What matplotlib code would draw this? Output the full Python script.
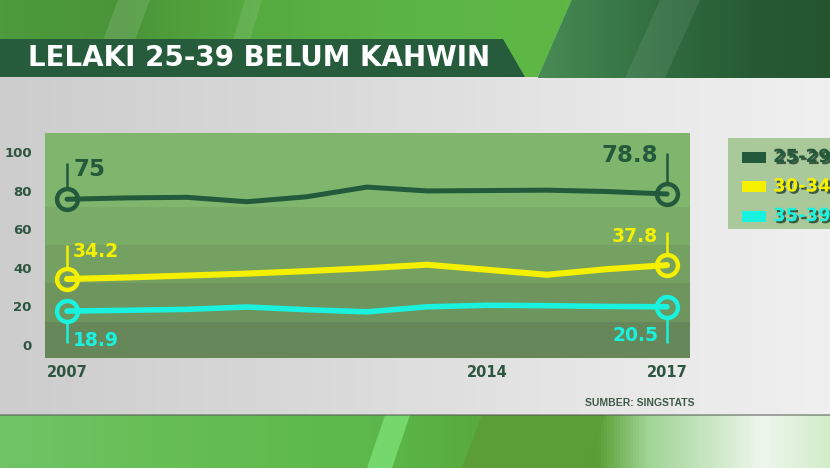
import numpy as np
import matplotlib
matplotlib.use('Agg')
import matplotlib.pyplot as plt
from matplotlib.colors import LinearSegmentedColormap
from matplotlib.patches import Polygon, Rectangle
import matplotlib.patheffects as pe

# data
years = [2007, 2008, 2009, 2010, 2011, 2012, 2013, 2014, 2015, 2016, 2017]
age_25_29 = [75.5, 76.2, 76.5, 74.2, 76.8, 81.8, 79.8, 80.0, 80.2, 79.5, 78.2]
age_30_34 = [34.2, 35.0, 36.0, 37.0, 38.3, 39.8, 41.6, 39.0, 36.4, 39.3, 41.4]
age_35_39 = [17.6, 18.0, 18.5, 19.7, 18.3, 17.2, 19.8, 20.6, 20.4, 20.0, 19.8]
series_names = ['25-29', '30-34', '35-39']
start_labels = ['75', '34.2', '18.9']
end_labels = ['78.8', '37.8', '20.5']
yticks = [0, 20, 40, 60, 80, 100]
xticks = [2007, 2014, 2017]
title = 'LELAKI 25-39 BELUM KAHWIN'
source = 'SUMBER: SINGSTATS'

colors = ['#245a3c', '#f4f000', '#1af2e0']
W, H = 830, 468
fig = plt.figure(figsize=(W / 100, H / 100), dpi=100)

# ---------------- background (pixel coords) ----------------
bg = fig.add_axes([0, 0, 1, 1], zorder=-5)
bg.set_xlim(0, W)
bg.set_ylim(H, 0)
bg.axis('off')

def hgrad(ax, x0, x1, y0, y1, stops, z=0):
    cmap = LinearSegmentedColormap.from_list('g', stops)
    g = np.linspace(0, 1, 256).reshape(1, -1)
    ax.imshow(g, cmap=cmap, extent=[x0, x1, y1, y0], aspect='auto', zorder=z)

# top green band
hgrad(bg, 0, W, 0, 78, [(0, '#4d9b3c'), (0.15, '#4a9538'), (0.3, '#55aa40'),
                        (0.5, '#5cb645'), (0.68, '#5fb846'), (1, '#5fb846')], z=0)
bg.add_patch(Polygon([(118, 0), (150, 0), (135, 40), (103, 40)], closed=True,
                     fc='white', alpha=0.12, lw=0, zorder=1))
bg.add_patch(Polygon([(245, 0), (262, 0), (250, 40), (233, 40)], closed=True,
                     fc='white', alpha=0.10, lw=0, zorder=1))
dark = Polygon([(572, 0), (W, 0), (W, 78), (538, 78)], closed=True, lw=0, zorder=2)
bg.add_patch(dark)
im = bg.imshow(np.linspace(0, 1, 256).reshape(1, -1),
               cmap=LinearSegmentedColormap.from_list('d', ['#4a8a55', '#3a7a48', '#2e683c', '#275a33', '#24552f']),
               extent=[538, W, 78, 0], aspect='auto', zorder=2)
im.set_clip_path(dark)
bg.add_patch(Polygon([(660, 0), (700, 0), (665, 78), (625, 78)], closed=True,
                     fc='white', alpha=0.08, lw=0, zorder=3))

# title banner
bg.add_patch(Polygon([(0, 39), (503, 39), (525, 77), (0, 77)], closed=True,
                     fc='#265c3c', lw=0, zorder=4))
bg.text(28, 58, title, color='white', fontsize=20, fontweight='bold',
        family='DejaVu Sans', va='center', ha='left', zorder=5)

# grey panel
hgrad(bg, 0, W, 77, 415, [(0, '#cdcdcd'), (0.4, '#dadada'), (0.75, '#e8e8e8'), (1, '#f0f0f0')], z=0)

# bottom green band
hgrad(bg, 0, W, 415, H, [(0, '#70c466'), (0.25, '#64bd52'), (0.45, '#5cb84a'),
                         (0.6, '#58a83a'), (0.72, '#5a9e35'), (0.78, '#9fd494'),
                         (0.92, '#eef7ec'), (1, '#d2ecca')], z=0)
bg.add_patch(Polygon([(385, 415), (410, 415), (392, H), (367, H)], closed=True,
                     fc='#74d86c', lw=0, zorder=1))
bg.add_patch(Polygon([(482, 415), (605, 415), (585, H), (462, H)], closed=True,
                     fc='#5b9d36', lw=0, zorder=1))
bg.plot([0, W], [415, 415], color='#555555', lw=1.2, alpha=0.6, zorder=2)

# legend box
bg.add_patch(Rectangle((728, 138), 120, 91, fc='#a9c99b', lw=0, zorder=4))
for i, name in enumerate(series_names):
    yc = 157 + i * 29.5
    bg.add_patch(Rectangle((742, yc - 5.5), 24, 11, fc=colors[i], lw=0, zorder=5))
    bg.text(773, yc, name, color=colors[i], fontsize=13, fontweight='bold',
            va='center', ha='left', zorder=6,
            path_effects=[pe.withSimplePatchShadow(offset=(1.5, -1.5), shadow_rgbFace='#1e3d2a', alpha=0.8)])

# source
bg.text(585, 403, source, color='#3e5a48', fontsize=7.5, fontweight='bold',
        family=['Liberation Sans Narrow', 'Liberation Sans'], va='center', ha='left', zorder=5)

# ---------------- chart ----------------
x0px, x1px, y0px, y1px = 45, 690, 133, 358
ax = fig.add_axes([x0px / W, 1 - y1px / H, (x1px - x0px) / W, (y1px - y0px) / H])
ax.set_facecolor('none')
ymin, ymax = -6.7, 109.8
xmin, xmax = 2006.633, 2017.383
ax.set_xlim(xmin, xmax)
ax.set_ylim(ymin, ymax)
ppu = (y1px - y0px) / (ymax - ymin)  # pixels per unit

band_edges = [ymin, 12, 32, 52, 71.5, ymax]
band_colors = ['#66875a', '#6d955d', '#74a062', '#7aab67', '#80b56d']
for k in range(len(band_colors)):
    ax.axhspan(band_edges[k], band_edges[k + 1], color=band_colors[k], lw=0, zorder=0)

all_series = [age_25_29, age_30_34, age_35_39]
widths = [3.6, 4.4, 4.0]
for i, vals in enumerate(all_series):
    ax.plot(years, vals, color=colors[i], lw=widths[i], solid_joinstyle='round',
            solid_capstyle='round', marker='o', markevery=[0, len(vals) - 1],
            ms=15, mfc='none', mec=colors[i], mew=3.2, zorder=3)

# value call-outs: (series, index, text, dx px, dy px, ha, tick end px, fontsize)
callouts = [
    (0, 0, start_labels[0], 6, 30, 'left', 36, 16.5),
    (1, 0, start_labels[1], 6, 28, 'left', 34, 13.5),
    (2, 0, start_labels[2], 6, -29, 'left', -32, 13.5),
    (0, -1, end_labels[0], -9, 39, 'right', 41, 16.5),
    (1, -1, end_labels[1], -9, 29, 'right', 33, 13.5),
    (2, -1, end_labels[2], -9, -29, 'right', -36, 13.5),
]
for s, idx, txt, dx, dy, ha, tl, fs in callouts:
    xv = years[idx]
    yv = all_series[s][idx]
    sgn = 1 if tl > 0 else -1
    ax.plot([xv, xv], [yv + sgn * 12 / ppu, yv + tl / ppu], color=colors[s], lw=1.8,
            solid_capstyle='butt', zorder=3)
    ax.annotate(txt, (xv, yv), xytext=(dx * 0.72, dy * 0.72), textcoords='offset points',
                ha=ha, va='center', color=colors[s], fontsize=fs, fontweight='bold', zorder=4)

ax.set_yticks(yticks)
ax.set_yticklabels([str(v) for v in yticks], fontsize=9.5, fontweight='bold', color='#2d5540')
ax.set_xticks(xticks)
ax.set_xticklabels([str(v) for v in xticks], fontsize=10.5, fontweight='bold', color='#2d5540')
ax.tick_params(axis='y', length=0, pad=9.5)
ax.tick_params(axis='x', length=0, pad=5)
for sp in ax.spines.values():
    sp.set_visible(False)

fig.savefig('out.png', dpi=100)
